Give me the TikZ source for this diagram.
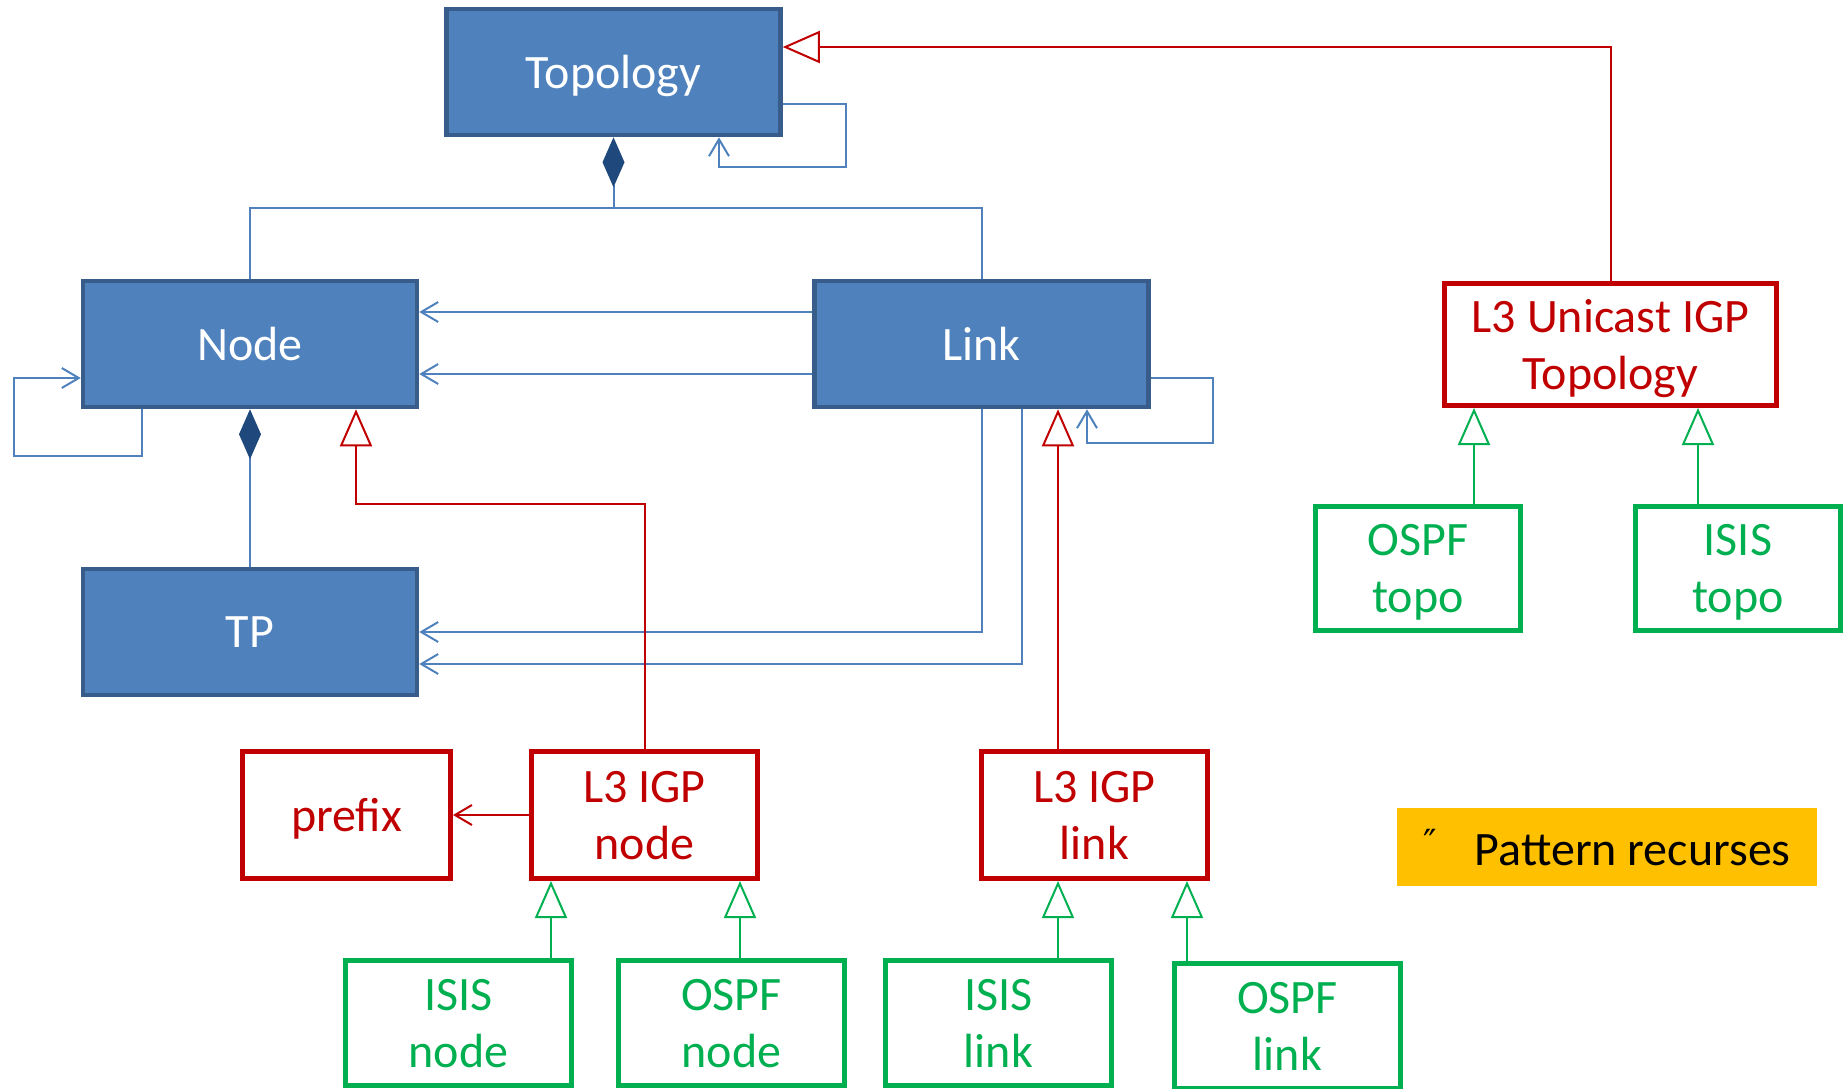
\documentclass[tikz,border=0pt]{standalone}
\usepackage{fontspec}
\setmainfont{Carlito}
\newfontfamily\dejavu{DejaVu Sans}
\usepackage{tikz}
\usetikzlibrary{
  arrows.meta
}
\usepackage{xcolor}

\definecolor{boxblue}{HTML}{4F81BD}
\definecolor{borderblue}{HTML}{385D8A}
\definecolor{diamondblue}{HTML}{1F497D}
\definecolor{umlred}{HTML}{C00000}
\definecolor{umlgreen}{HTML}{00B050}
\definecolor{notegold}{HTML}{FFC000}

\begin{document}
\begin{tikzpicture}[x=0.5pt, y=-0.5pt,
	every node/.style={font=\fontsize{24}{28.5}\selectfont, align=center, inner sep=0pt, text depth=0pt},
	classbox/.style={draw=borderblue, fill=boxblue, line width=2.25pt, text=white,
		minimum width=167pt, minimum height=63pt},
	igpbox/.style={draw=umlred, line width=2.5pt, text=umlred, minimum height=63.5pt},
	protobox/.style={draw=umlgreen, line width=2.5pt, text=umlgreen, minimum height=62.5pt},
	assoc/.style={draw=boxblue, line width=1pt, -{Straight Barb[length=8.5pt, width=10pt]}},
	inherit/.style={line width=1pt, -{Triangle[length=18.5pt, width=16pt, fill=white]}},
	compose/.style={draw=boxblue, line width=1pt,
		{Diamond[length=25pt, width=11pt, color=diamondblue]}-},
	tie/.style={draw=boxblue, line width=1pt}
]

	    \useasboundingbox (0,0) rectangle (1848,1088);

	    % base classes
	    \node[classbox] (topo) at (613.5,72)  {Topology};
	    \node[classbox] (node) at (250,344)   {Node};
	    \node[classbox] (link) at (981.5,344) {Link};
	    \node[classbox] (tp)   at (250,632)   {TP};

	    % L3 classes
	    \node[igpbox, minimum width=166pt, minimum height=61pt] (uni) at (1610.5,344.5) {L3 Unicast IGP\\Topology};
	    \node[igpbox, minimum width=104pt] (prefix) at (346.5,815)  {prefix};
	    \node[igpbox, minimum width=113pt] (l3node) at (644.5,815)  {L3 IGP\\node};
	    \node[igpbox, minimum width=113pt] (l3link) at (1094.5,815) {L3 IGP\\link};

	    % protocol classes
	    \node[protobox, minimum width=102.5pt, minimum height=62pt] (ospftopo) at (1418,568.5) {OSPF\\topo};
	    \node[protobox, minimum width=102.5pt, minimum height=62pt] (isistopo) at (1738,568.5) {ISIS\\topo};
	    \node[protobox, minimum width=113pt] (isisnode) at (458.5,1023)  {ISIS\\node};
	    \node[protobox, minimum width=113pt] (ospfnode) at (731.5,1023)  {OSPF\\node};
	    \node[protobox, minimum width=113pt] (isislink) at (998.5,1023)  {ISIS\\link};
	    \node[protobox, minimum width=113pt] (ospflink) at (1287.5,1026) {OSPF\\link};

	    % note
	    \node[fill=notegold, minimum width=210pt, minimum height=39pt] (note) at (1607,847)
	        {\raisebox{5pt}{\dejavu\fontsize{18}{18}\selectfont ″}\hspace{19pt}Pattern recurses};

	    % composition
	    \draw[compose] (topo.south) -- (topo.south |- 0,208);
	    \draw[tie] (node.north) -- (node.north |- 0,208) -| (link.north);
	    \draw[compose] (node.south) -- (tp.north);

	    % associations
	    \draw[assoc] (topo.east |- 0,104) -- (846,104) -- (846,167) -| (topo.south -| 719,0);
	    \draw[assoc] (link.west |- 0,312) -- (node.east |- 0,312);
	    \draw[assoc] (link.west |- 0,374) -- (node.east |- 0,374);
	    \draw[assoc] (link.south) |- (tp.east);
	    \draw[assoc] (link.south -| 1022,0) |- (tp.east |- 0,664);
	    \draw[assoc] (node.south -| 142,0) -- (142,456) -- (14,456) |- (node.west |- 0,378);
	    \draw[assoc] (link.east |- 0,378) -- (1213,378) -- (1213,443) -| (link.south -| 1087,0);
	    \draw[assoc, draw=umlred] (l3node.west) -- (prefix.east);

	    % generalization, red
	    \draw[inherit, umlred] (uni.north) |- (topo.east |- 0,47);
	    \draw[inherit, umlred] (l3node.north) |- (356,504) -- (node.south -| 356,0);
	    \draw[inherit, umlred] (l3link.north -| 1058,0) -- (link.south -| 1058,0);

	    % generalization, green
	    \draw[inherit, umlgreen] (isisnode.north -| 551,0)  -- (l3node.south -| 551,0);
	    \draw[inherit, umlgreen] (ospfnode.north -| 740,0)  -- (l3node.south -| 740,0);
	    \draw[inherit, umlgreen] (isislink.north -| 1058,0) -- (l3link.south -| 1058,0);
	    \draw[inherit, umlgreen] (ospflink.north -| 1187,0) -- (l3link.south -| 1187,0);
	    \draw[inherit, umlgreen] (ospftopo.north -| 1474,0) -- (uni.south -| 1474,0);
	    \draw[inherit, umlgreen] (isistopo.north -| 1698,0) -- (uni.south -| 1698,0);

\end{tikzpicture}
\end{document}
